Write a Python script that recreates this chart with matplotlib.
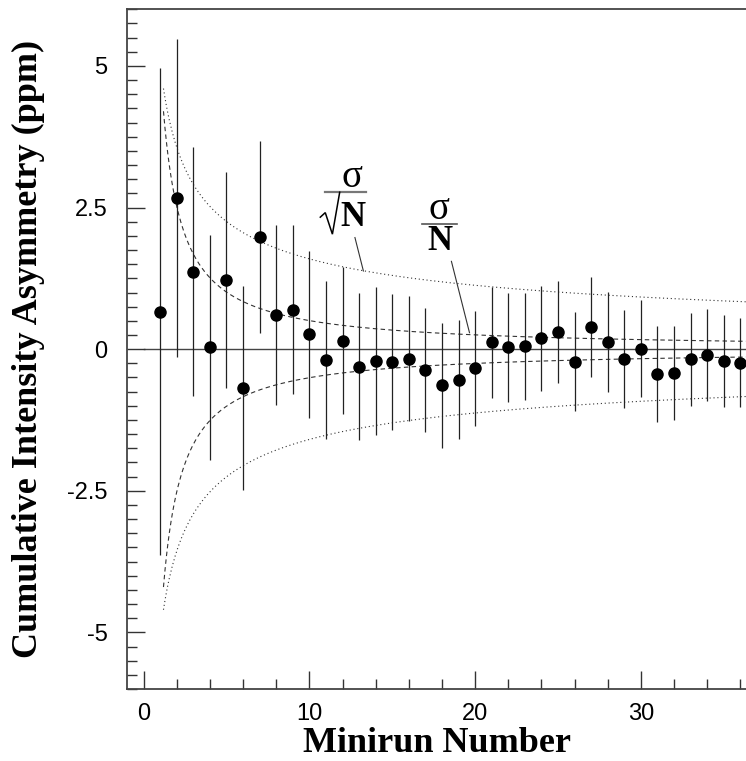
import numpy as np
import matplotlib
matplotlib.use('Agg')
import matplotlib.pyplot as plt
from matplotlib.ticker import MultipleLocator, FixedLocator, FixedFormatter

# minirun index, cumulative asymmetry (ppm) and its error bar
minirun = np.arange(1, 37)
asym = [0.66, 2.67, 1.37, 0.03, 1.22, -0.68, 1.98, 0.61, 0.70, 0.26,
        -0.19, 0.15, -0.31, -0.21, -0.22, -0.17, -0.37, -0.64, -0.54, -0.34,
        0.12, 0.03, 0.05, 0.19, 0.31, -0.22, 0.39, 0.13, -0.17, 0.01,
        -0.44, -0.42, -0.18, -0.10, -0.21, -0.24]
err = [4.30, 2.80, 2.20, 1.99, 1.90, 1.80, 1.69, 1.59, 1.50, 1.47,
       1.39, 1.30, 1.30, 1.30, 1.20, 1.10, 1.10, 1.10, 1.05, 1.01,
       0.98, 0.96, 0.94, 0.93, 0.90, 0.88, 0.88, 0.88, 0.87, 0.86,
       0.84, 0.83, 0.82, 0.81, 0.81, 0.79]

sigma = 5.04  # single-minirun width used for the guide curves
nn = np.linspace(1.2, 36.5, 400)

yticks = [-5, -2.5, 0, 2.5, 5]
ytick_labels = ['-5', '-2.5', '0', '2.5', '5']
xticks = [0, 10, 20, 30]

serif = 'Liberation Serif'
sans = 'Liberation Sans'

fig = plt.figure(figsize=(7.46, 7.61), dpi=100)
ax = fig.add_axes([127 / 746, 72 / 761, 620 / 746, 679.7 / 761])

ax.axhline(0, xmin=1 / 37.4, color='#444444', lw=1.0, zorder=1)

ax.plot(nn, sigma / np.sqrt(nn), color='#333333', lw=0.8, ls=(0, (1, 2.5)))
ax.plot(nn, -sigma / np.sqrt(nn), color='#333333', lw=0.8, ls=(0, (1, 2.5)))
ax.plot(nn, sigma / nn, color='#333333', lw=0.8, ls=(0, (4, 3)))
ax.plot(nn, -sigma / nn, color='#333333', lw=0.8, ls=(0, (4, 3)))

ax.errorbar(minirun, asym, yerr=err, fmt='o', color='black', ms=8,
            ecolor='#222222', elinewidth=0.9, capsize=0, zorder=3)

# sigma / sqrt(N) label
ax.text(12.56, 3.03, 'σ', fontsize=28, family=serif, ha='center', va='center')
ax.plot([10.96, 13.44], [2.77, 2.77], color='#777777', lw=1.6)
ax.plot([10.66, 10.96, 11.39, 11.83], [2.33, 2.41, 2.03, 2.77],
        color='black', lw=1.1, solid_joinstyle='miter')
ax.text(12.6, 2.33, 'N', fontsize=25, family=serif, weight='bold',
        ha='center', va='center')
ax.plot([12.75, 13.26], [1.97, 1.38], color='#333333', lw=0.8)

# sigma / N label
ax.text(17.82, 2.47, 'σ', fontsize=28, family=serif, ha='center', va='center')
ax.plot([16.82, 18.93], [2.21, 2.21], color='#555555', lw=1.2)
ax.text(17.9, 1.9, 'N', fontsize=25, family=serif, weight='bold',
        ha='center', va='center')
ax.plot([18.57, 19.66], [1.55, 0.29], color='#333333', lw=0.8)

ax.set_xlim(-1, 36.4)
ax.set_ylim(-6, 6)
ax.xaxis.set_major_locator(FixedLocator(xticks))
ax.xaxis.set_minor_locator(MultipleLocator(2))
ax.yaxis.set_major_locator(FixedLocator(yticks))
ax.yaxis.set_major_formatter(FixedFormatter(ytick_labels))
ax.yaxis.set_minor_locator(MultipleLocator(0.25))

ax.tick_params(which='both', direction='in', color='#333333', width=1.0)
ax.tick_params(which='major', length=13, labelsize=17)
ax.tick_params(which='minor', length=7)
ax.tick_params(axis='y', pad=14)
ax.tick_params(axis='x', pad=10)
for lab in ax.get_xticklabels() + ax.get_yticklabels():
    lab.set_family(sans)

ax.spines['right'].set_visible(False)
for s in ['left', 'bottom', 'top']:
    ax.spines[s].set_color('#444444')
    ax.spines[s].set_linewidth(1.3)

ax.set_xlabel('Minirun Number', fontsize=26, family=serif, weight='bold')
ax.xaxis.set_label_coords(0.5, -0.056)
ax.xaxis.label.set_va('top')
ax.set_ylabel('Cumulative Intensity Asymmetry (ppm)', fontsize=26, family=serif,
              weight='bold')
ax.yaxis.set_label_coords(-0.133, 0.5)

fig.savefig('out.png', dpi=100)
